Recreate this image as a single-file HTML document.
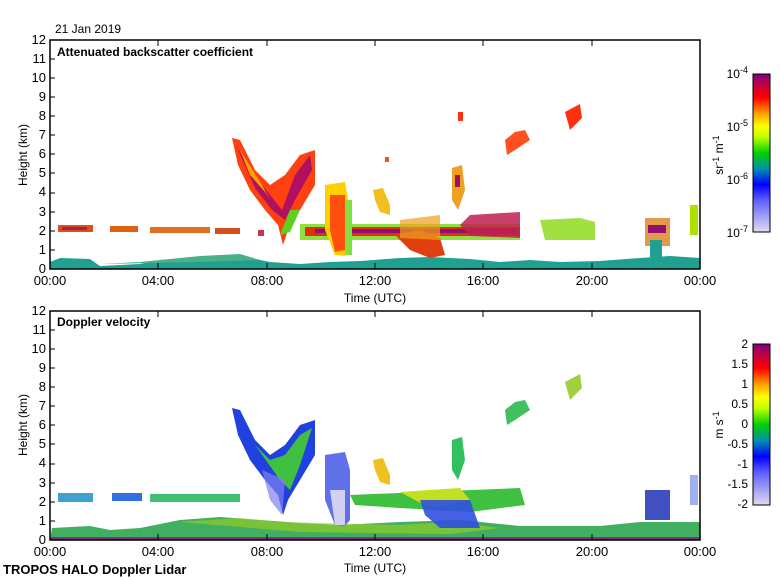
<!DOCTYPE html>
<html><head><style>
body{margin:0;background:#fff;}
svg{display:block;font-family:"Liberation Sans",sans-serif;}
</style></head><body>
<svg width="780" height="580" viewBox="0 0 780 580" xmlns="http://www.w3.org/2000/svg">
<defs>
<linearGradient id="cb1" x1="0" y1="1" x2="0" y2="0">
<stop offset="0" stop-color="#e0dcec"/><stop offset="0.2" stop-color="#6060ff"/><stop offset="0.3" stop-color="#0000ff"/><stop offset="0.4" stop-color="#0090b0"/><stop offset="0.5" stop-color="#00d000"/><stop offset="0.6" stop-color="#c0ff00"/><stop offset="0.67" stop-color="#ffff00"/><stop offset="0.75" stop-color="#ffa000"/><stop offset="0.85" stop-color="#ff0000"/><stop offset="0.93" stop-color="#c00040"/><stop offset="1" stop-color="#800080"/>
</linearGradient>
</defs>
<text x="55" y="33" font-size="12">21 Jan 2019</text>

<!-- ===== TOP PANEL ===== -->
<g>
<!-- boundary layer -->
<polygon points="50,262 60,258 90,259 100,266 140,264 160,260 200,258 230,256 250,258 270,262 300,264 330,262 360,261 400,258 430,257 470,259 500,262 530,260 560,262 600,261 640,258 670,256 700,258 700,269 50,269" fill="#20a090"/>
<polygon points="100,264 140,262 200,256 240,254 260,260 200,262" fill="#4ab088"/>
<!-- 2km layer left -->
<rect x="58" y="225" width="35" height="7" fill="#e05010"/>
<rect x="62" y="227" width="25" height="3" fill="#a02060"/>
<rect x="110" y="226" width="28" height="6" fill="#e06010"/>
<rect x="150" y="227" width="60" height="6" fill="#e07020"/>
<rect x="215" y="228" width="25" height="6" fill="#d05020"/>
<rect x="258" y="230" width="6" height="6" fill="#d03050"/>
<!-- main 2km layer -->
<rect x="300" y="224" width="220" height="16" fill="#90e040"/>
<rect x="305" y="227" width="215" height="9" fill="#e03010"/>
<rect x="315" y="229" width="200" height="4" fill="#901070"/>
<polygon points="395,235 420,230 440,238 445,255 430,258 410,250" fill="#e04010"/>
<polygon points="400,220 440,215 440,240 400,238" fill="#f0a020" opacity="0.7"/>
<!-- falling streak -->
<polygon points="232,138 240,140 255,170 270,185 285,175 300,155 315,150 315,185 300,210 288,230 283,245 278,225 265,210 250,190 238,165" fill="#ff4010"/>
<polygon points="236,145 250,170 270,195 282,210 295,175 310,155 312,170 295,200 285,220 272,210 255,188" fill="#b01060"/>
<polygon points="240,150 250,175 265,192 270,200 262,185" fill="#ffa000"/>
<polygon points="280,235 290,232 300,210 290,210" fill="#60d020"/>
<!-- column at 10-11h -->
<polygon points="325,185 345,182 348,200 350,250 345,256 335,255 325,230" fill="#ffd000"/>
<polygon points="330,195 345,195 345,250 335,252 330,230" fill="#ff5010"/>
<polygon points="345,200 352,200 352,255 345,255" fill="#80e040"/>
<!-- small clouds -->
<polygon points="373,190 383,188 390,205 390,215 380,212 375,200" fill="#f0c020"/>
<polygon points="452,168 462,165 465,190 458,210 452,200" fill="#f0a020"/>
<rect x="455" y="175" width="5" height="12" fill="#a01060"/>
<rect x="458" y="112" width="5" height="9" fill="#ff3010"/>
<rect x="385" y="157" width="4" height="5" fill="#ff5010"/>
<polygon points="505,140 515,132 525,130 530,140 515,150 507,155" fill="#ff5020"/>
<polygon points="565,112 580,104 582,118 570,130" fill="#ff3010"/>
<polygon points="460,225 470,215 520,212 520,238 470,236" fill="#c02050" opacity="0.85"/>
<polygon points="540,220 580,218 595,222 595,240 545,240" fill="#a0e040"/>
<!-- right end -->
<rect x="645" y="218" width="25" height="28" fill="#e08020" opacity="0.8"/>
<rect x="648" y="225" width="18" height="8" fill="#901070"/>
<rect x="650" y="240" width="12" height="22" fill="#20a090"/>
<rect x="690" y="205" width="8" height="30" fill="#b0e000"/>
<rect x="50" y="40" width="650" height="229" fill="none" stroke="#000" stroke-width="1.5"/>
<text x="57" y="56" font-size="12" font-weight="bold">Attenuated backscatter coefficient</text>
</g>

<!-- ===== BOTTOM PANEL ===== -->
<g>
<polygon points="52,528 90,526 110,530 140,528 180,520 220,517 260,520 300,523 340,525 400,522 460,520 520,526 600,526 640,522 700,522 700,540 50,540" fill="#40b060"/>
<polygon points="180,522 240,518 280,522 400,525 450,522 500,528 450,534 300,532" fill="#a0d020" opacity="0.6"/>
<rect x="50" y="537" width="650" height="3" fill="#803080"/>
<rect x="58" y="493" width="35" height="9" fill="#40a0d0"/>
<rect x="112" y="493" width="30" height="8" fill="#3070e0"/>
<rect x="150" y="494" width="90" height="8" fill="#40c070"/>
<polygon points="232,408 240,410 255,440 270,455 285,445 300,425 315,420 315,455 300,480 288,500 283,515 278,495 265,480 250,460 238,435" fill="#2040e0"/>
<polygon points="255,445 270,460 285,455 300,435 312,428 300,465 290,490 280,480" fill="#40c040"/>
<polygon points="262,470 285,480 282,515 270,500" fill="#8080f0" opacity="0.7"/>
<polygon points="325,455 345,452 350,470 350,520 345,526 335,525 325,500" fill="#6070e8"/>
<polygon points="330,490 345,490 345,525 335,525" fill="#d0d0f0"/>
<polygon points="350,495 520,488 525,505 470,512 400,508 355,505" fill="#40c040"/>
<polygon points="400,492 460,488 470,500 430,508" fill="#c0e020"/>
<polygon points="420,500 470,500 480,528 440,528 425,515" fill="#3050e0" opacity="0.9"/>
<polygon points="373,460 383,458 390,475 390,485 380,482 375,470" fill="#f0c020"/>
<polygon points="452,440 462,437 465,460 458,480 452,470" fill="#30c060"/>
<polygon points="505,410 515,402 525,400 530,410 515,420 507,425" fill="#40c060"/>
<polygon points="565,382 580,374 582,388 570,400" fill="#a0d040"/>
<rect x="645" y="490" width="25" height="30" fill="#4050c0"/>
<rect x="690" y="475" width="8" height="30" fill="#a0b0f0"/>
<rect x="50" y="311" width="650" height="229" fill="none" stroke="#000" stroke-width="1.5"/>
<text x="57" y="326" font-size="12" font-weight="bold">Doppler velocity</text>
</g>

<g font-size="13" text-anchor="end">
<text x="46" y="44">12</text><text x="46" y="63">11</text><text x="46" y="82">10</text><text x="46" y="101">9</text><text x="46" y="120">8</text><text x="46" y="139">7</text><text x="46" y="158">6</text><text x="46" y="177">5</text><text x="46" y="196">4</text><text x="46" y="216">3</text><text x="46" y="235">2</text><text x="46" y="254">1</text><text x="46" y="273">0</text>
<text x="46" y="315">12</text><text x="46" y="334">11</text><text x="46" y="353">10</text><text x="46" y="372">9</text><text x="46" y="391">8</text><text x="46" y="410">7</text><text x="46" y="429">6</text><text x="46" y="448">5</text><text x="46" y="467">4</text><text x="46" y="487">3</text><text x="46" y="506">2</text><text x="46" y="525">1</text><text x="46" y="544">0</text>
</g>
<g stroke="#000" stroke-width="1">
<path d="M50 59h5M50 78h5M50 97h5M50 116h5M50 135h5M50 154h5M50 173h5M50 193h5M50 212h5M50 231h5M50 250h5"/>
<path d="M50 330h5M50 349h5M50 368h5M50 387h5M50 406h5M50 425h5M50 444h5M50 464h5M50 483h5M50 502h5M50 521h5"/>
<path d="M158 269v-6M267 269v-6M375 269v-6M483 269v-6M592 269v-6M158 40v6M267 40v6M375 40v6M483 40v6M592 40v6"/>
<path d="M158 540v-6M267 540v-6M375 540v-6M483 540v-6M592 540v-6M158 311v6M267 311v6M375 311v6M483 311v6M592 311v6"/>
</g>
<g font-size="13" text-anchor="middle">
<text x="50" y="285">00:00</text><text x="158" y="285">04:00</text><text x="267" y="285">08:00</text><text x="375" y="285">12:00</text><text x="483" y="285">16:00</text><text x="592" y="285">20:00</text><text x="700" y="285">00:00</text>
<text x="50" y="556">00:00</text><text x="158" y="556">04:00</text><text x="267" y="556">08:00</text><text x="375" y="556">12:00</text><text x="483" y="556">16:00</text><text x="592" y="556">20:00</text><text x="700" y="556">00:00</text>
<text x="375" y="302" font-size="12">Time (UTC)</text>
<text x="375" y="572" font-size="12">Time (UTC)</text>
<text transform="translate(27,155) rotate(-90)" font-size="12">Height (km)</text>
<text transform="translate(27,425) rotate(-90)" font-size="12">Height (km)</text>
</g>
<text x="3" y="574" font-size="13" font-weight="bold">TROPOS HALO Doppler Lidar</text>

<rect x="753" y="74" width="17" height="158" fill="url(#cb1)" stroke="#000"/>
<g font-size="12" text-anchor="end">
<text x="748" y="78">10<tspan dy="-5" font-size="9">-4</tspan></text>
<text x="748" y="131">10<tspan dy="-5" font-size="9">-5</tspan></text>
<text x="748" y="184">10<tspan dy="-5" font-size="9">-6</tspan></text>
<text x="748" y="237">10<tspan dy="-5" font-size="9">-7</tspan></text>
</g>
<text transform="translate(723,155) rotate(-90)" font-size="12" text-anchor="middle">sr<tspan dy="-4" font-size="9">-1</tspan><tspan dy="4"> m</tspan><tspan dy="-4" font-size="9">-1</tspan></text>

<rect x="753" y="344" width="17" height="161" fill="url(#cb1)" stroke="#000"/>
<g font-size="12" text-anchor="end">
<text x="748" y="348">2</text><text x="748" y="368">1.5</text><text x="748" y="388">1</text><text x="748" y="408">0.5</text><text x="748" y="428">0</text><text x="748" y="448">-0.5</text><text x="748" y="468">-1</text><text x="748" y="488">-1.5</text><text x="748" y="508">-2</text>
</g>
<text transform="translate(723,425) rotate(-90)" font-size="12" text-anchor="middle">m s<tspan dy="-4" font-size="9">-1</tspan></text>
</svg>
</body></html>
